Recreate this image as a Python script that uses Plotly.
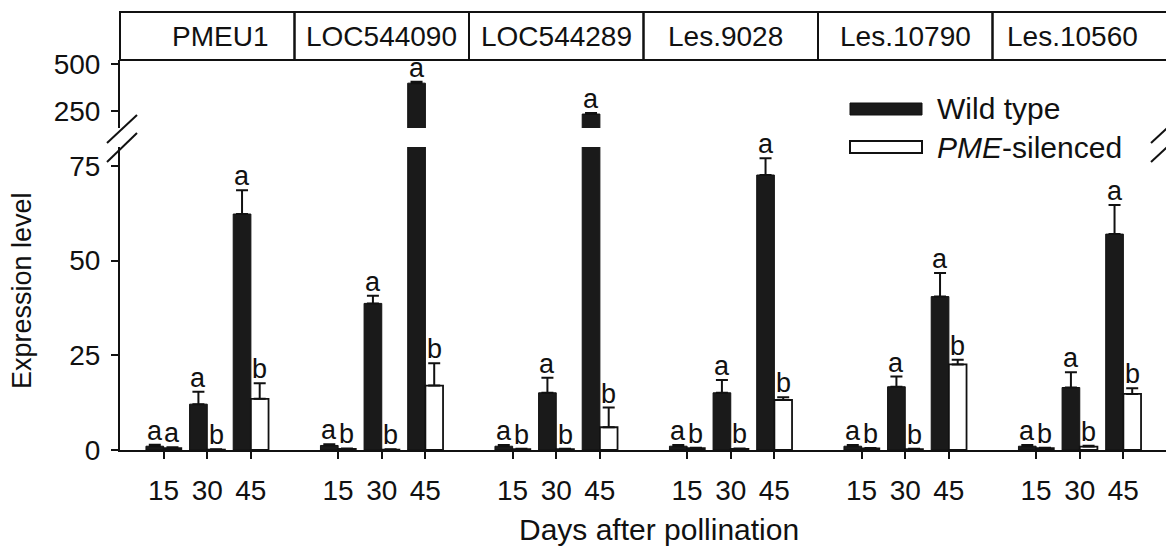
import plotly.graph_objects as go

genes = ["PMEU1", "LOC544090", "LOC544289", "Les.9028", "Les.10790", "Les.10560"]
days = ["15", "30", "45"]

wt_mean = [[1.0, 12.1, 62.3], [1.2, 38.7, 398.0], [1.0, 15.1, 234.0],
           [1.0, 15.1, 72.6], [1.0, 16.7, 40.5], [1.0, 16.5, 57.0]]
wt_err = [[0.4, 3.3, 6.3], [0.3, 2.0, 8.0], [0.3, 4.0, 5.0],
          [0.3, 3.4, 4.4], [0.3, 2.7, 6.2], [0.3, 4.0, 7.7]]
pme_mean = [[0.5, 0.1, 13.5], [0.3, 0.1, 17.0], [0.2, 0.2, 6.0],
            [0.5, 0.3, 13.2], [0.4, 0.2, 22.6], [0.5, 0.9, 14.8]]
pme_err = [[0.2, 0.1, 4.1], [0.1, 0.1, 5.9], [0.1, 0.1, 5.2],
           [0.1, 0.1, 0.7], [0.1, 0.1, 1.2], [0.1, 0.2, 1.5]]

wt_letters = [["a", "a", "a"]] * 6
pme_letters = [["a", "b", "b"], ["b", "b", "b"], ["b", "b", "b"],
               ["b", "b", "b"], ["b", "b", "b"], ["b", "b", "b"]]

lower_ticks = [0, 25, 50, 75]
upper_ticks = [250, 500]
lower_range = [0, 80]
upper_range = [160, 521]

FONT = "Liberation Sans, Arial, sans-serif"
OFF = 8                      # default page body margin
PAGE_W, PAGE_H = 1174, 548
LEFT, RIGHT, TOP, BOTTOM = 120, 1167, 60, 450
W, H = PAGE_W - OFF, PAGE_H - OFF
ML, MT = LEFT - OFF, TOP - OFF
MR = W - (RIGHT - OFF)
MB = H - (BOTTOM - OFF)
PW, PH = RIGHT - LEFT, BOTTOM - TOP
header_xshift = [13, 0, 0, -5, 0, -7]


def px(xp):
    return (xp - LEFT) / PW


def py(yp):
    return (BOTTOM - yp) / PH


low_dom = [0, py(147)]
up_dom = [py(128), 1]

fig = go.Figure()
n = len(genes)
for k in range(n):
    xa = "x" if k == 0 else f"x{k+1}"
    for ya in ["y", "y2"]:
        fig.add_trace(go.Bar(
            x=days, y=wt_mean[k], xaxis=xa, yaxis=ya, name="Wild type",
            marker=dict(color="#1a1a1a", line=dict(color="#111", width=1)),
            error_y=dict(type="data", symmetric=False, array=wt_err[k],
                         arrayminus=[0] * 3, color="#111", thickness=2, width=6),
            showlegend=False))
        fig.add_trace(go.Bar(
            x=days, y=pme_mean[k], xaxis=xa, yaxis=ya, name="PME-silenced",
            marker=dict(color="white", line=dict(color="#111", width=1.8)),
            error_y=dict(type="data", symmetric=False, array=pme_err[k],
                         arrayminus=[0] * 3, color="#111", thickness=2, width=6),
            showlegend=False))

layout = dict(
    width=W, height=H, margin=dict(l=ML, r=MR, t=MT, b=MB, pad=0),
    paper_bgcolor="white", plot_bgcolor="white",
    barmode="group", bargap=0.19, bargroupgap=0,
    font=dict(family=FONT, size=28, color="#111"),
)
for k in range(n):
    key = "xaxis" if k == 0 else f"xaxis{k+1}"
    layout[key] = dict(
        domain=[k / n, (k + 1) / n], anchor="y", type="category",
        range=[-1, 3], showline=True, linewidth=2, linecolor="#111",
        ticks="outside", ticklen=7, tickwidth=2, tickcolor="#111",
        showgrid=False, zeroline=False, ticklabelstandoff=7,
        tickfont=dict(size=28, family=FONT, color="#111"))
for key, dom, rng, tv in [("yaxis", low_dom, lower_range, lower_ticks),
                          ("yaxis2", up_dom, upper_range, upper_ticks)]:
    layout[key] = dict(
        domain=dom, range=rng, anchor="x", tickvals=tv,
        showline=True, linewidth=2, linecolor="#111", ticks="outside",
        ticklen=7, tickwidth=2, tickcolor="#111", showgrid=False, zeroline=False,
        ticklabelstandoff=5, tickfont=dict(size=28, family=FONT, color="#111"))
fig.update_layout(**layout)

shapes = []
annotations = []
# header boxes
for k in range(n):
    shapes.append(dict(type="rect", xref="paper", yref="paper",
                       x0=k / n, x1=(k + 1) / n, y0=1, y1=py(12),
                       line=dict(color="#111", width=2), fillcolor="rgba(0,0,0,0)"))
    annotations.append(dict(xref="paper", yref="paper", x=(k + 0.5) / n, y=py(36),
                            text=genes[k], showarrow=False, xanchor="center",
                            xshift=header_xshift[k], yanchor="middle",
                            font=dict(size=28, family=FONT, color="#111")))
# right border with break
shapes.append(dict(type="line", xref="paper", yref="paper", x0=1, x1=1,
                   y0=0, y1=low_dom[1], line=dict(color="#111", width=2)))
shapes.append(dict(type="line", xref="paper", yref="paper", x0=1, x1=1,
                   y0=up_dom[0], y1=1, line=dict(color="#111", width=2)))
# break marks
for (x0, y0, x1, y1) in [(107, 143, 137, 115), (107, 162, 137, 133),
                         (1151, 143, 1176, 120), (1151, 162, 1176, 139)]:
    shapes.append(dict(type="line", xref="paper", yref="paper",
                       x0=px(x0), y0=py(y0), x1=px(x1), y1=py(y1),
                       line=dict(color="#111", width=2)))
# legend
shapes.append(dict(type="rect", xref="paper", yref="paper", x0=px(850), x1=px(922),
                   y0=py(115), y1=py(103), fillcolor="#1a1a1a",
                   line=dict(color="#111", width=1)))
shapes.append(dict(type="rect", xref="paper", yref="paper", x0=px(850), x1=px(922),
                   y0=py(153), y1=py(141), fillcolor="white",
                   line=dict(color="#111", width=2)))
annotations.append(dict(xref="paper", yref="paper", x=px(935), y=py(108),
                        text="Wild type", showarrow=False, xanchor="left",
                        yanchor="middle", font=dict(size=30, family=FONT, color="#111")))
annotations.append(dict(xref="paper", yref="paper", x=px(935), y=py(147),
                        text="<i>PME</i>-silenced", showarrow=False, xanchor="left",
                        yanchor="middle", font=dict(size=30, family=FONT, color="#111")))
# axis titles
annotations.append(dict(xref="paper", yref="paper", x=px(22), y=py(291),
                        text="Expression level", showarrow=False, textangle=-90,
                        xanchor="center", yanchor="middle",
                        font=dict(size=27, family=FONT, color="#111")))
annotations.append(dict(xref="paper", yref="paper", x=px(659), y=py(529),
                        text="Days after pollination", showarrow=False,
                        xanchor="center", yanchor="middle",
                        font=dict(size=30, family=FONT, color="#111")))

# significance letters
half = (1 - 0.19) / 4
shift_px = half * PW / n / 4
for k in range(n):
    xr = "x" if k == 0 else f"x{k+1}"
    for i in range(3):
        for mean, err, lets, sgn in [(wt_mean, wt_err, wt_letters, -1),
                                     (pme_mean, pme_err, pme_letters, 1)]:
            top = mean[k][i] + err[k][i]
            yr = "y2" if mean[k][i] > lower_range[1] else "y"
            annotations.append(dict(xref=xr, yref=yr, x=i, y=top, text=lets[k][i],
                                    showarrow=False, xanchor="center", yanchor="bottom",
                                    xshift=sgn * shift_px, yshift=-3,
                                    font=dict(size=27, family=FONT, color="#111")))

fig.update_layout(shapes=shapes, annotations=annotations)
fig.write_html("out.html")
